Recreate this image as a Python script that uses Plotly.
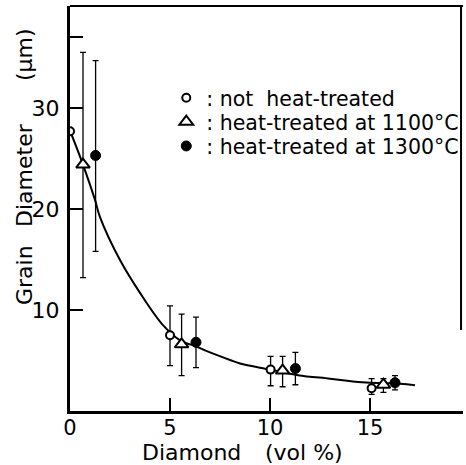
import plotly.graph_objects as go

# --- data ---
nt_x = [0.0, 5.0, 10.03, 15.08]
nt_y = [27.7, 7.5, 4.1, 2.25]
nt_up = [0.0, 2.9, 1.3, 0.95]
nt_dn = [0.0, 3.0, 1.6, 0.6]

t11_x = [0.65, 5.58, 10.63, 15.67]
t11_y = [24.4, 6.6, 4.0, 2.6]
t11_up = [11.1, 3.0, 1.4, 0.6]
t11_dn = [11.2, 3.1, 1.6, 0.75]

t13_x = [1.28, 6.3, 11.27, 16.25]
t13_y = [25.3, 6.8, 4.2, 2.8]
t13_up = [9.4, 2.5, 1.6, 0.7]
t13_dn = [9.5, 2.5, 1.6, 0.7]

curve_x = [0.0, 0.63, 1.25, 1.5, 2.5, 3.5, 4.65, 5.5, 6.3, 7.0, 8.0, 8.5, 10.0, 11.4, 13.0, 14.6, 16.5, 17.25]
curve_y = [27.75, 24.5, 20.9, 19.2, 14.95, 11.7, 8.5, 7.0, 6.4, 5.8, 5.05, 4.7, 4.1, 3.55, 3.2, 2.85, 2.7, 2.55]

legend_names = [": not  heat-treated", ": heat-treated at 1100°C", ": heat-treated at 1300°C"]
x_ticks = [0, 5, 10, 15]
y_ticks = [10, 20, 30, 37]
y_ticktext = ["10", "20", "30", ""]

FONT = "DejaVu Sans"

fig = go.Figure()
fig.add_trace(go.Scatter(x=curve_x, y=curve_y, mode="lines", line=dict(color="black", width=2, shape="spline"),
                         showlegend=False, hoverinfo="skip"))

def err(up, dn):
    return dict(type="data", symmetric=False, array=up, arrayminus=dn, color="black", thickness=1.3, width=3)

fig.add_trace(go.Scatter(x=nt_x, y=nt_y, mode="markers", name=legend_names[0], legend="legend",
                         marker=dict(symbol="circle", size=8, color="white", line=dict(color="black", width=2)),
                         error_y=err(nt_up, nt_dn)))
fig.add_trace(go.Scatter(x=t11_x, y=t11_y, mode="markers", name=legend_names[1], legend="legend2",
                         marker=dict(symbol="triangle-up", size=12, color="white", line=dict(color="black", width=2)),
                         error_y=err(t11_up, t11_dn)))
fig.add_trace(go.Scatter(x=t13_x, y=t13_y, mode="markers", name=legend_names[2], legend="legend3",
                         marker=dict(symbol="circle", size=10, color="black", line=dict(color="black", width=1)),
                         error_y=err(t13_up, t13_dn)))

def leg(yc):
    return dict(x=0.245, y=yc, xanchor="left", yanchor="middle", bgcolor="rgba(0,0,0,0)",
                font=dict(size=20.5, family=FONT, color="black"), itemwidth=30)

fig.update_layout(
    width=466, height=465,
    margin=dict(l=70, r=3, t=6, b=54, autoexpand=False),
    paper_bgcolor="white", plot_bgcolor="white",
    font=dict(family=FONT, color="black", size=21),
    showlegend=True,
    legend=leg(0.773), legend2=leg(0.714), legend3=leg(0.654),
    xaxis=dict(range=[0, 19.65], tickvals=x_ticks, ticks="inside", ticklen=13, tickwidth=2, tickcolor="black",
               showline=True, linecolor="black", linewidth=3, showgrid=False, zeroline=False, automargin=False,
               tickfont=dict(size=21), ticklabelstandoff=-4),
    yaxis=dict(range=[0, 40.1], tickvals=y_ticks, ticktext=y_ticktext, ticks="inside", ticklen=13, tickwidth=2,
               tickcolor="black", showline=True, linecolor="black", linewidth=3, showgrid=False, zeroline=False,
               automargin=False, tickfont=dict(size=22), ticklabelstandoff=3),
    shapes=[
        dict(type="line", xref="paper", yref="paper", x0=0, x1=1, y0=1, y1=1, line=dict(color="black", width=2)),
        dict(type="line", xref="paper", yref="paper", x0=0.995, x1=0.995, y0=0.2, y1=1, line=dict(color="black", width=2)),
    ],
    annotations=[
        dict(text="Diamond", xref="paper", yref="paper", x=(191 - 70) / 393, y=(411 - 452) / 405, showarrow=False,
             font=dict(size=22), xanchor="center", yanchor="middle"),
        dict(text="(vol %)", xref="paper", yref="paper", x=(304 - 70) / 393, y=(411 - 452) / 405, showarrow=False,
             font=dict(size=22), xanchor="center", yanchor="middle"),
        dict(text="Grain", xref="paper", yref="paper", x=(24 - 70) / 393, y=(411 - 275) / 405, showarrow=False,
             textangle=-90, font=dict(size=22), xanchor="center", yanchor="middle"),
        dict(text="Diameter", xref="paper", yref="paper", x=(24 - 70) / 393, y=(411 - 175) / 405, showarrow=False,
             textangle=-90, font=dict(size=22), xanchor="center", yanchor="middle"),
        dict(text="(μm)", xref="paper", yref="paper", x=(24 - 70) / 393, y=(411 - 55) / 405, showarrow=False,
             textangle=-90, font=dict(size=22), xanchor="center", yanchor="middle"),
    ],
)

fig.write_html("out.html", config={"displayModeBar": False},
               post_script="document.body.style.margin='0';document.body.style.padding='0';")
